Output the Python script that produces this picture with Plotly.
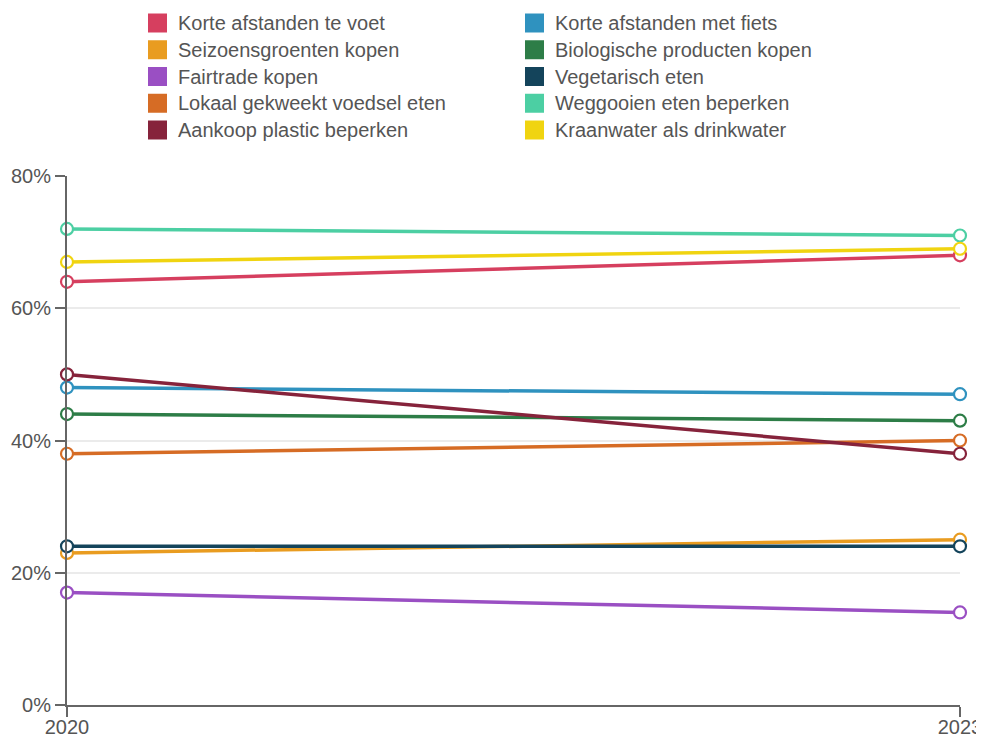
import plotly.graph_objects as go

years = [2020, 2023]
series_names = [
    "Korte afstanden te voet", "Korte afstanden met fiets",
    "Seizoensgroenten kopen", "Biologische producten kopen",
    "Fairtrade kopen", "Vegetarisch eten",
    "Lokaal gekweekt voedsel eten", "Weggooien eten beperken",
    "Aankoop plastic beperken", "Kraanwater als drinkwater",
]
series_values = [
    [64, 68], [48, 47],
    [23, 25], [44, 43],
    [17, 14], [24, 24],
    [38, 40], [72, 71],
    [50, 38], [67, 69],
]
series_colors = [
    "#d63f5f", "#2f92bf",
    "#e99c20", "#2d7d47",
    "#9a4fc3", "#14445b",
    "#d66c25", "#4ccfa3",
    "#86233b", "#f0d410",
]
y_ticks = [0, 20, 40, 60, 80]
y_tick_labels = ["0%", "20%", "40%", "60%", "80%"]
x_tick_labels = ["2020", "2023"]

FONT = "Liberation Sans, Arial, sans-serif"
fig = go.Figure()
for name, vals, col in zip(series_names, series_values, series_colors):
    fig.add_trace(go.Scatter(
        x=years, y=vals, name=name, mode="lines+markers",
        line=dict(color=col, width=3.5),
        marker=dict(size=12, color="white", line=dict(color=col, width=2.2)),
        cliponaxis=False, showlegend=False,
    ))

# custom legend with square swatches (positions in page px, converted to paper)
annotations = []
shapes = []
row_h = 26.75
for i, (name, col) in enumerate(zip(series_names, series_colors)):
    colx = i % 2
    row = i // 2
    x0 = 148 if colx == 0 else 525
    yc = 23 + row * row_h
    shapes.append(dict(type="rect", xref="paper", yref="paper",
                       x0=(x0 - 67) / 893, x1=(x0 + 19 - 67) / 893,
                       y0=(705 - (yc + 9.5)) / 529, y1=(705 - (yc - 9.5)) / 529,
                       fillcolor=col, line=dict(width=0)))
    annotations.append(dict(text=name, xref="paper", yref="paper",
                            x=(x0 + 28 - 67) / 893, y=(705 - yc) / 529,
                            xanchor="left", yanchor="middle", showarrow=False,
                            font=dict(family=FONT, size=20, color="#555555")))

fig.update_layout(
    width=984, height=738,
    margin=dict(l=59, r=32, t=168, b=41),
    paper_bgcolor="white", plot_bgcolor="white",
    font=dict(family=FONT, size=20, color="#555555"),
    showlegend=False,
    annotations=annotations, shapes=shapes,
    xaxis=dict(range=[2020, 2023], tickvals=years, ticktext=x_tick_labels,
               showgrid=False, showline=True, linecolor="#666666", linewidth=2,
               ticks="outside", ticklen=10, tickcolor="#666666", tickwidth=2,
               ticklabelstandoff=-7,
               zeroline=False, automargin=False,
               tickfont=dict(size=20, color="#555555")),
    yaxis=dict(range=[0, 80], tickvals=y_ticks, ticktext=y_tick_labels,
               showgrid=True, gridcolor="#ebebeb", gridwidth=2,
               showline=True, linecolor="#666666", linewidth=2,
               ticks="outside", ticklen=10, tickcolor="#666666", tickwidth=2,
               zeroline=False, automargin=False,
               tickfont=dict(size=20, color="#555555")),
)
fig.write_html("out.html")
